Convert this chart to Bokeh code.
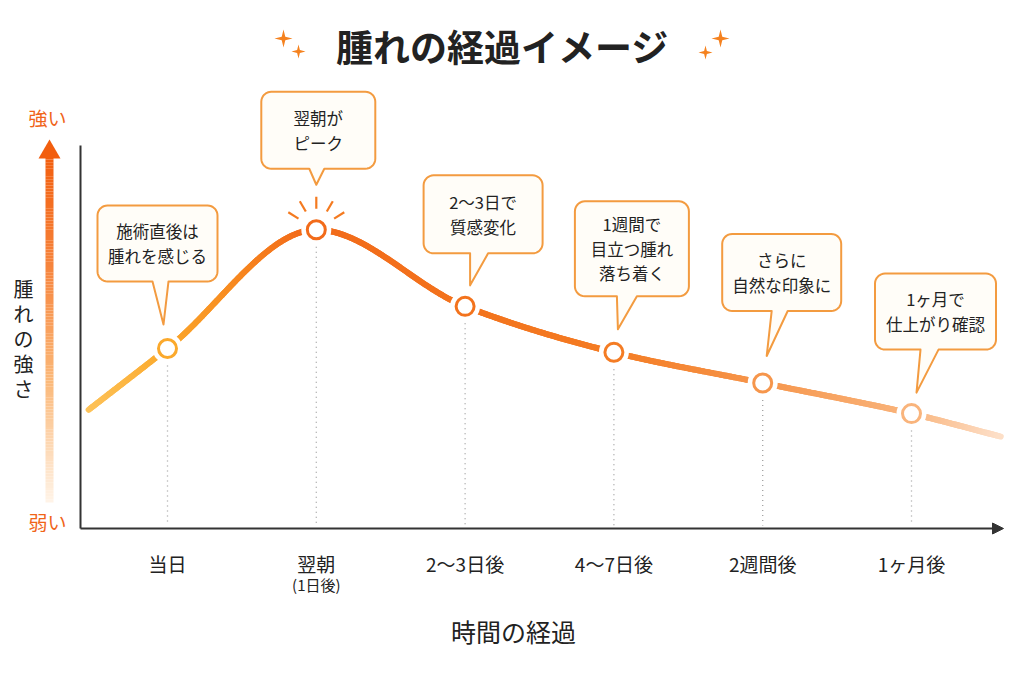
import numpy as np
from bokeh.plotting import figure
from bokeh.models import Range1d, Arrow, NormalHead
from bokeh.core.properties import value
from bokeh.embed import file_html
from bokeh.resources import INLINE

# ---------------- data ----------------
stages = ["当日", "翌朝", "2〜3日後", "4〜7日後", "2週間後", "1ヶ月後"]
stage_sub = ["", "(1日後)", "", "", "", ""]
swelling = [47, 78, 58, 46, 38, 30]          # relative swelling strength (0-100)
lead_in = (-0.53, 31)                        # curve before the day of surgery
tail_out = (5.6, 24)                         # curve after one month
notes = [
    ["施術直後は", "腫れを感じる"],
    ["翌朝が", "ピーク"],
    ["2〜3日で", "質感変化"],
    ["1週間で", "目立つ腫れ", "落ち着く"],
    ["さらに", "自然な印象に"],
    ["1ヶ月で", "仕上がり確認"],
]
title = "腫れの経過イメージ"
y_title = "腫れの強さ"
y_high, y_low = "強い", "弱い"
x_title = "時間の経過"

# ---------------- canvas geometry ----------------
W, H = 1024, 683
ORIGIN_X = 167.0      # pixel column of the first stage
STEP = 148.8          # pixels between stages
BASE_Y = 528.0        # pixel row of zero strength
PX_PER_UNIT = 3.83    # pixels per strength unit

FONT = "Noto Sans CJK JP"
INK = "#222222"


def X(px):
    return (px - ORIGIN_X) / STEP


def Y(py):
    return (BASE_Y - py) / PX_PER_UNIT


def PX(x):
    return ORIGIN_X + x * STEP


def PY(v):
    return BASE_Y - v * PX_PER_UNIT


def hex_rgb(h):
    h = h.lstrip("#")
    return np.array([int(h[i:i + 2], 16) for i in (0, 2, 4)], dtype=float)


def ramp(stops, pos):
    """Interpolate colours given (position, hex) stops."""
    ps = np.array([s[0] for s in stops], dtype=float)
    cs = np.array([hex_rgb(s[1]) for s in stops])
    out = []
    for q in np.atleast_1d(pos):
        r = [np.interp(q, ps, cs[:, k]) for k in range(3)]
        out.append("#%02x%02x%02x" % tuple(int(round(c)) for c in r))
    return out


def pchip(xk, yk, xs):
    xk = np.asarray(xk, float)
    yk = np.asarray(yk, float)
    h = np.diff(xk)
    d = np.diff(yk) / h
    n = len(xk)
    m = np.zeros(n)
    m[0], m[-1] = d[0], d[-1]
    for k in range(1, n - 1):
        if d[k - 1] * d[k] <= 0:
            m[k] = 0.0
        else:
            w1 = 2 * h[k] + h[k - 1]
            w2 = h[k] + 2 * h[k - 1]
            m[k] = (w1 + w2) / (w1 / d[k - 1] + w2 / d[k])
    ys = np.empty_like(xs)
    for j, x in enumerate(xs):
        k = min(max(np.searchsorted(xk, x) - 1, 0), n - 2)
        t = (x - xk[k]) / h[k]
        h00 = 2 * t**3 - 3 * t**2 + 1
        h10 = t**3 - 2 * t**2 + t
        h01 = -2 * t**3 + 3 * t**2
        h11 = t**3 - t**2
        ys[j] = h00 * yk[k] + h10 * h[k] * m[k] + h01 * yk[k + 1] + h11 * h[k] * m[k + 1]
    return ys


p = figure(width=W, height=H,
           x_range=Range1d(X(0), X(W)), y_range=Range1d(Y(H), Y(0)),
           output_backend="svg", toolbar_location=None,
           x_axis_location=None, y_axis_location=None, min_border=0)
p.grid.visible = False
p.outline_line_color = None
p.background_fill_color = "white"
p.border_fill_color = "white"

# ---------------- title with sparkles ----------------
p.text(x=[X(502)], y=[Y(45)], text=[title], text_font=value(FONT),
       text_font_size=value("37px"), text_font_style="bold", text_color=INK,
       text_align="center", text_baseline="middle")


def sparkle(cx, cy, r):
    xs, ys = [], []
    for k in range(8):
        a = np.pi / 2 + k * np.pi / 4
        rr = r if k % 2 == 0 else r * 0.28
        xs.append(X(cx + rr * np.cos(a)))
        ys.append(Y(cy - rr * np.sin(a)))
    return xs, ys


sp = [sparkle(283, 38, 9), sparkle(298, 51, 7), sparkle(720, 38, 9), sparkle(705, 52, 7)]
p.patches([s[0] for s in sp], [s[1] for s in sp], fill_color="#F5821F", line_color=None)

# ---------------- axes ----------------
p.segment(x0=[X(80)], y0=[Y(145)], x1=[X(80)], y1=[Y(528)], line_color="#333333", line_width=2)
p.add_layout(Arrow(end=NormalHead(size=11, fill_color="#333333", line_color="#333333"),
                   x_start=X(80), y_start=Y(528), x_end=X(1003), y_end=Y(528),
                   line_color="#333333", line_width=2))

# gradient strength arrow on the left
shaft = np.linspace(502, 156, 120)
shaft_cols = ramp([(156, "#F25E0E"), (260, "#F6823A"), (380, "#FBB878"), (502, "#FFF4E8")],
                  (shaft[:-1] + shaft[1:]) / 2)
p.segment(x0=[X(49)] * (len(shaft) - 1), y0=[Y(v) for v in shaft[:-1]],
          x1=[X(49)] * (len(shaft) - 1), y1=[Y(v) for v in shaft[1:]],
          line_color=shaft_cols, line_width=8)
p.patch([X(38), X(60), X(49)], [Y(158), Y(158), Y(139)], fill_color="#F25E0E", line_color=None)

p.text(x=[X(47), X(47)], y=[Y(117), Y(521)], text=[y_high, y_low], text_font=value(FONT),
       text_font_size=value("19px"), text_color="#F06418",
       text_align="center", text_baseline="middle")
p.text(x=[X(23)] * len(y_title), y=[Y(288 + 25 * k) for k in range(len(y_title))],
       text=list(y_title), text_font=value(FONT), text_font_size=value("20px"),
       text_color=INK, text_align="center", text_baseline="middle")

# ---------------- x labels ----------------
idx = list(range(len(stages)))
p.text(x=idx, y=[Y(563)] * len(stages), text=stages, text_font=value(FONT),
       text_font_size=value("19px"), text_color=INK, text_align="center", text_baseline="middle")
p.text(x=[i for i in idx if stage_sub[i]], y=[Y(584)] * sum(1 for s in stage_sub if s),
       text=[s for s in stage_sub if s], text_font=value(FONT),
       text_font_size=value("15px"), text_color=INK, text_align="center", text_baseline="middle")
p.text(x=[X(513)], y=[Y(630)], text=[x_title], text_font=value(FONT),
       text_font_size=value("25px"), text_color=INK, text_align="center", text_baseline="middle")

# ---------------- dotted drop lines ----------------
p.segment(x0=idx, y0=[v - 12 / PX_PER_UNIT for v in swelling], x1=idx, y1=[Y(525)] * len(idx),
          line_color="#a0a0a0", line_width=1.3, line_dash="1 4")

# ---------------- swelling curve ----------------
kx = [lead_in[0]] + idx + [tail_out[0]]
ky = [lead_in[1]] + swelling + [tail_out[1]]
cx = np.linspace(kx[0], kx[-1], 500)
cy = pchip(kx, ky, cx)
curve_stops = [(88, "#FDC35A"), (167, "#FBA92C"), (240, "#F7871F"), (305, "#F26A1A"),
               (462, "#F3731D"), (617, "#F47C24"), (763, "#F6964C"), (911, "#F9B47C"),
               (1000, "#FDDFC8")]
seg_cols = ramp(curve_stops, PX((cx[:-1] + cx[1:]) / 2))
p.segment(x0=cx[:-1], y0=cy[:-1], x1=cx[1:], y1=cy[1:], line_color=seg_cols,
          line_width=6, line_cap="round")

# peak rays
ray_x0, ray_y0, ray_x1, ray_y1 = [], [], [], []
for a in np.radians([-58, -30, 0, 30, 58]):
    ray_x0.append(1 + 21 * np.sin(a) / STEP)
    ray_y0.append(swelling[1] + 21 * np.cos(a) / PX_PER_UNIT)
    ray_x1.append(1 + 33 * np.sin(a) / STEP)
    ray_y1.append(swelling[1] + 33 * np.cos(a) / PX_PER_UNIT)
p.segment(x0=ray_x0, y0=ray_y0, x1=ray_x1, y1=ray_y1, line_color="#F47A20", line_width=2.2)

# point markers with a white halo
point_cols = ramp(curve_stops, [PX(i) for i in idx])
p.scatter(x=idx, y=swelling, size=30, fill_color="white", line_color=None)
p.scatter(x=idx, y=swelling, size=18, fill_color="white", line_color=point_cols, line_width=3)

# ---------------- callouts ----------------
# (centre offset, width, height, bottom gap, tip dx, tip gap, base left, base right) in px
callout_layout = [
    (-10, 120, 76, 67, -4, 24, -15, 1),
    (2, 114, 77, 61, 0, 45, -7, 8),
    (18, 119, 78, 53, 5, 21, 5, 23),
    (18, 114, 95, 56, 4, 23, 3, 23),
    (19, 119, 77, 72, 4, 27, 9, 25),
    (24, 121, 76, 64, 5, 21, 9, 27),
]


def callout_path(L, R, T, B, tip, bl, br, r=10):
    pts = []

    def arc(ccx, ccy, a0, a1):
        for a in np.radians(np.linspace(a0, a1, 9)):
            pts.append((ccx + r * np.cos(a), ccy + r * np.sin(a)))

    arc(R - r, T + r, -90, 0)
    arc(R - r, B - r, 0, 90)
    pts.append((br, B))
    pts.append(tip)
    pts.append((bl, B))
    arc(L + r, B - r, 90, 180)
    arc(L + r, T + r, 180, 270)
    return [X(q[0]) for q in pts], [Y(q[1]) for q in pts]


bx, by, tx, ty, tt = [], [], [], [], []
for i, (lines, lay) in enumerate(zip(notes, callout_layout)):
    c_off, w, h, gap, tdx, tgap, b_l, b_r = lay
    px0, py0 = PX(i), PY(swelling[i])
    ccx = px0 + c_off
    B = py0 - gap
    T = B - h
    xs, ys = callout_path(ccx - w / 2, ccx + w / 2, T, B, (px0 + tdx, py0 - tgap),
                          px0 + b_l, px0 + b_r)
    bx.append(xs)
    by.append(ys)
    mid = (T + B) / 2
    n = len(lines)
    sp_line = 24.5
    for k, s in enumerate(lines):
        tx.append(X(ccx))
        ty.append(Y(mid + (k - (n - 1) / 2) * sp_line))
        tt.append(s)

p.patches(bx, by, fill_color="#FFFDF8", line_color="#F39B40", line_width=2, line_join="round")
p.text(x=tx, y=ty, text=tt, text_font=value(FONT), text_font_size=value("16.5px"),
       text_color=INK, text_align="center", text_baseline="middle")

open("out.html", "w").write(file_html(p, INLINE))
